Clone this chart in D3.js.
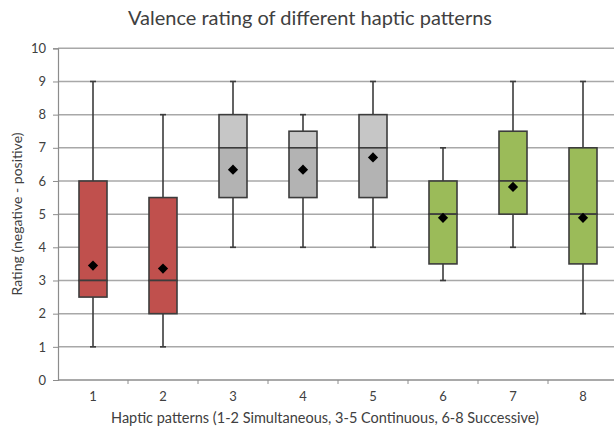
<!DOCTYPE html>
<html>
<head>
<meta charset="utf-8">
<script src="https://cdn.jsdelivr.net/npm/d3@7/dist/d3.min.js"></script>
<style>
  html, body { margin: 0; padding: 0; background: #fff; }
  svg { display: block; }
  text { font-family: Lato, "Open Sans", sans-serif; fill: #404040; }
</style>
</head>
<body>
<svg id="chart" width="614" height="435"></svg>
<script>
// ---- data ----
const categories = ["1", "2", "3", "4", "5", "6", "7", "8"];
const groups     = ["sim", "sim", "con", "con", "con", "suc", "suc", "suc"];
const whiskerLow = [1, 1, 4, 4, 4, 3, 4, 2];
const q1         = [2.5, 2, 5.5, 5.5, 5.5, 3.5, 5, 3.5];
const median     = [3, 3, 7, 7, 7, 5, 6, 5];
const q3         = [6, 5.5, 8, 7.5, 8, 6, 7.5, 7];
const whiskerHigh= [9, 8, 9, 8, 9, 7, 9, 9];
const mean       = [3.45, 3.36, 6.34, 6.34, 6.71, 4.89, 5.82, 4.89];
const yTicks     = [0, 1, 2, 3, 4, 5, 6, 7, 8, 9, 10];

const title  = "Valence rating of different haptic patterns";
const xTitle = "Haptic patterns (1-2 Simultaneous, 3-5 Continuous, 6-8 Successive)";
const yTitle = "Rating (negative - positive)";

const upperFill = { sim: "#c0504d", con: "#c6c6c6", suc: "#9bbb59" };
const lowerFill = { sim: "#c0504d", con: "#b3b3b3", suc: "#9bbb59" };

const data = categories.map((c, i) => ({
  c, g: groups[i], lo: whiskerLow[i], q1: q1[i], med: median[i],
  q3: q3[i], hi: whiskerHigh[i], mean: mean[i]
}));

// ---- layout ----
const svg = d3.select("#chart");
const plotLeft = 58, bandRight = 618, plotTop = 48.3, plotBottom = 380, plotRight = 614;

const x = d3.scaleBand().domain(categories).range([plotLeft, bandRight]);
const y = d3.scaleLinear().domain([0, 10]).range([plotBottom, plotTop]);
const boxW = 28;
const cx = c => x(c) + x.bandwidth() / 2;

// gridlines
svg.append("g").selectAll("line").data(yTicks.filter(t => t > 0)).join("line")
  .attr("x1", plotLeft).attr("x2", plotRight)
  .attr("y1", d => y(d)).attr("y2", d => y(d))
  .attr("stroke", "#a8a8a8").attr("stroke-width", 1.5);

// y axis
const yAxis = svg.append("g").attr("transform", `translate(${plotLeft},0)`)
  .call(d3.axisLeft(y).tickValues(yTicks).tickSize(5).tickPadding(7).tickFormat(d3.format("d")));
yAxis.select(".domain").attr("stroke", "#8c8c8c").attr("stroke-width", 1.2);
yAxis.selectAll(".tick line").attr("stroke", "#8c8c8c");
yAxis.selectAll("text").attr("font-size", 13).attr("fill", "#404040")
  .style("font-family", "Lato, sans-serif");

// x axis
const xAxis = svg.append("g").attr("transform", `translate(0,${plotBottom})`)
  .call(d3.axisBottom(x).tickSize(0).tickPadding(12));
xAxis.select(".domain").attr("d", `M${plotLeft},0H${plotRight}`)
  .attr("stroke", "#8c8c8c").attr("stroke-width", 1.5);
xAxis.selectAll("text").attr("font-size", 13).attr("fill", "#404040")
  .style("font-family", "Lato, sans-serif");
// category separators
svg.append("g").selectAll("line").data(categories.slice(1)).join("line")
  .attr("x1", d => x(d)).attr("x2", d => x(d))
  .attr("y1", plotBottom).attr("y2", plotBottom + 4)
  .attr("stroke", "#8c8c8c").attr("stroke-width", 1);

// boxes
const box = svg.append("g").selectAll("g").data(data).join("g");
const stroke = "#3c3c3c";
box.append("line")
  .attr("x1", d => cx(d.c)).attr("x2", d => cx(d.c))
  .attr("y1", d => y(d.hi)).attr("y2", d => y(d.lo))
  .attr("stroke", stroke).attr("stroke-width", 1.6);
box.append("line")
  .attr("x1", d => cx(d.c) - 3).attr("x2", d => cx(d.c) + 3)
  .attr("y1", d => y(d.hi)).attr("y2", d => y(d.hi))
  .attr("stroke", stroke).attr("stroke-width", 1.6);
box.append("line")
  .attr("x1", d => cx(d.c) - 3).attr("x2", d => cx(d.c) + 3)
  .attr("y1", d => y(d.lo)).attr("y2", d => y(d.lo))
  .attr("stroke", stroke).attr("stroke-width", 1.6);
box.append("rect")
  .attr("x", d => cx(d.c) - boxW / 2).attr("width", boxW)
  .attr("y", d => y(d.q3)).attr("height", d => y(d.med) - y(d.q3))
  .attr("fill", d => upperFill[d.g]).attr("stroke", stroke).attr("stroke-width", 1.6);
box.append("rect")
  .attr("x", d => cx(d.c) - boxW / 2).attr("width", boxW)
  .attr("y", d => y(d.med)).attr("height", d => y(d.q1) - y(d.med))
  .attr("fill", d => lowerFill[d.g]).attr("stroke", stroke).attr("stroke-width", 1.6);
box.append("path")
  .attr("d", d3.symbol(d3.symbolSquare, 52))
  .attr("transform", d => `translate(${cx(d.c)},${y(d.mean)}) rotate(45)`)
  .attr("fill", "#000");

// titles
svg.append("text").attr("x", 310).attr("y", 25).attr("text-anchor", "middle")
  .attr("font-size", 20).attr("fill", "#262626").text(title);
svg.append("text").attr("x", 325).attr("y", 423).attr("text-anchor", "middle")
  .attr("font-size", 14.5).attr("fill", "#262626").text(xTitle);
svg.append("text").attr("transform", "translate(22,214) rotate(-90)")
  .attr("text-anchor", "middle").attr("font-size", 14).attr("fill", "#262626").text(yTitle);
</script>
</body>
</html>
